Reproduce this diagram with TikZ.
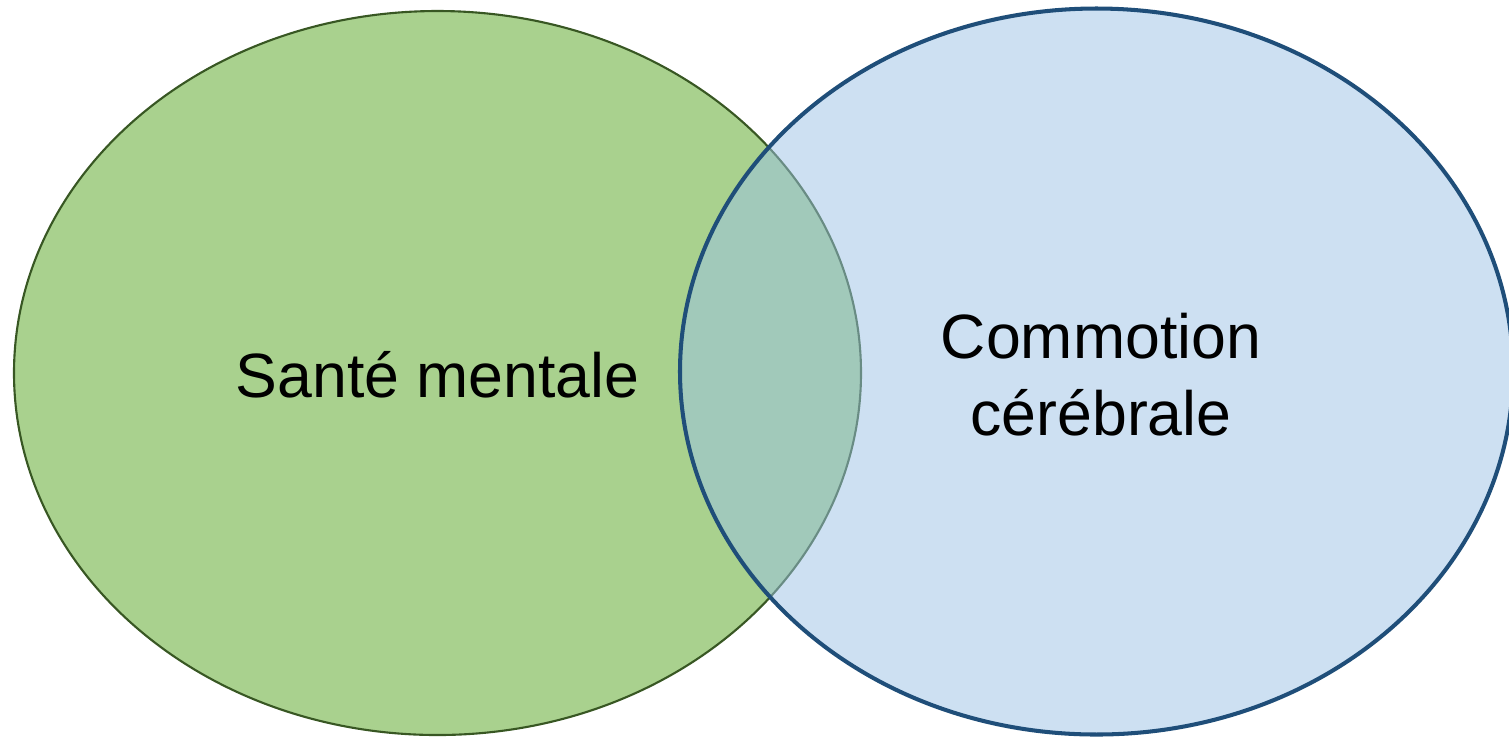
\documentclass[tikz,border=0pt]{standalone}
\usepackage{fontspec}
\setmainfont{Liberation Sans}
\definecolor{mentalfill}{RGB}{169,209,142}
\definecolor{mentalline}{RGB}{56,87,35}
\definecolor{concfill}{RGB}{155,194,230}
\definecolor{concline}{RGB}{31,78,121}

\begin{document}
\begin{tikzpicture}[x=0.01cm, y=-0.01cm,
  every node/.style={font=\fontsize{17.8pt}{21.9pt}\selectfont, align=center},
  mentalset/.style={fill=mentalfill, draw=mentalline, line width=0.6pt},
  concset/.style={fill=concfill, fill opacity=0.5, draw=concline, draw opacity=1, line width=1.15pt}]
  \useasboundingbox (0,0) rectangle (1509,738);
  \draw[mentalset] (437.5,373) ellipse [x radius=423.5, y radius=-362];
  \draw[concset] (1096.5,371.5) ellipse [x radius=416.5, y radius=-363];
  \node[anchor=base] (mental) at (437.5,397) {Santé mentale};
  \node[anchor=base] (concussion) at (1101,435) {Commotion\\cérébrale};
\end{tikzpicture}
\end{document}
